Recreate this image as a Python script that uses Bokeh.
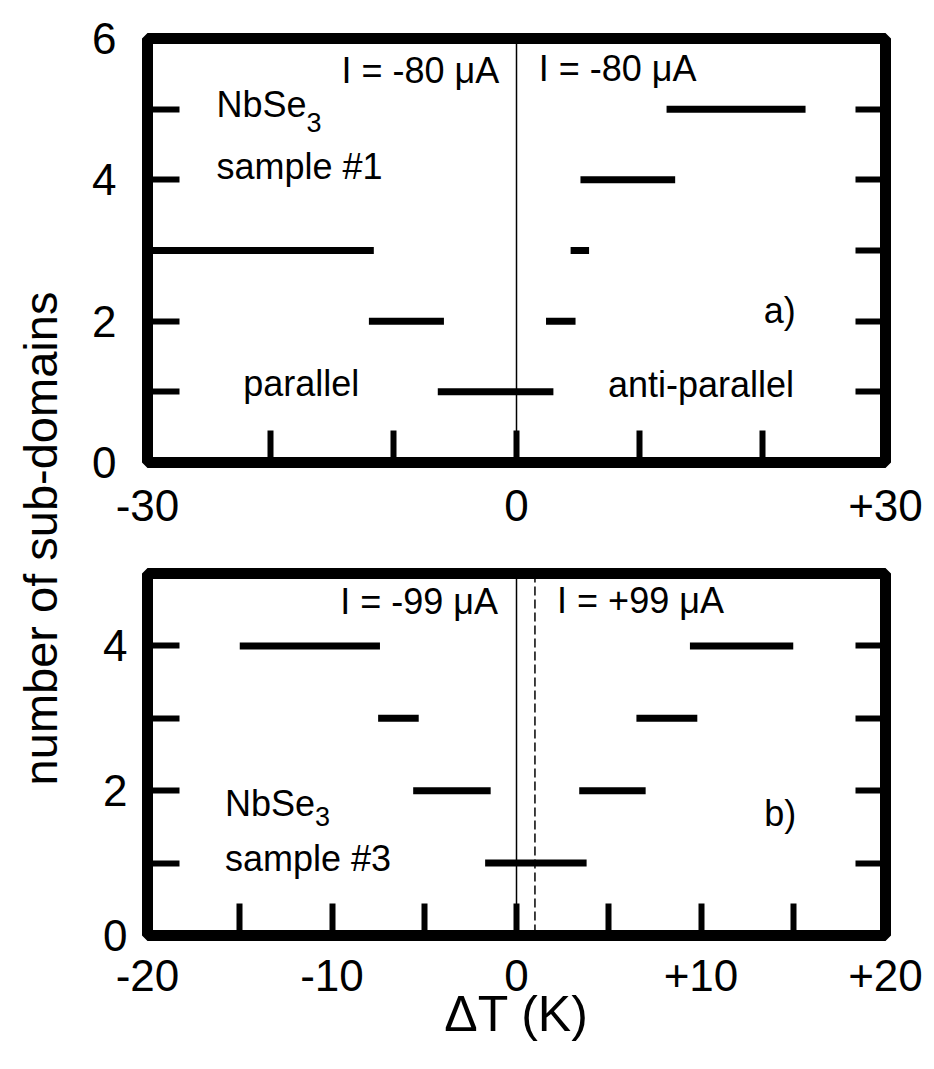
import math
from bokeh.plotting import figure
from bokeh.models import Range1d, FixedTicker, LinearAxis, Label, Span
from bokeh.layouts import row, column
from bokeh.embed import file_html
from bokeh.resources import INLINE

FONT = "Liberation Sans"

# ---------------- data ----------------
# panel a) : NbSe3 sample #1
top_rows = [5, 4, 3, 3, 2, 2, 1]
top_start = [12.2, 5.2, -30.0, 4.4, -12.0, 2.4, -6.4]
top_end = [23.5, 12.9, -11.6, 5.9, -5.9, 4.8, 3.0]
top_x_range = (-30, 30)
top_y_range = (0, 6)
top_x_ticks = [-30, 0, 30]
top_x_minor = [-20, -10, 10, 20]
top_x_labels = {-30: "-30", 0: "0", 30: "+30"}
top_y_ticks = [0, 2, 4, 6]
top_y_minor = [1, 3, 5]
top_right_minor = [1, 2, 3, 4, 5]
top_ref_lines = [0.0]

# panel b) : NbSe3 sample #3
bot_rows = [4, 4, 3, 3, 2, 2, 1]
bot_start = [-15.0, 9.4, -7.5, 6.5, -5.6, 3.4, -1.7]
bot_end = [-7.4, 15.0, -5.3, 9.8, -1.4, 7.0, 3.8]
bot_x_range = (-20, 20)
bot_y_range = (0, 5)
bot_x_ticks = [-20, -10, 0, 10, 20]
bot_x_minor = [-15, -5, 5, 15]
bot_x_labels = {-20: "-20", -10: "-10", 0: "0", 10: "+10", 20: "+20"}
bot_y_ticks = [0, 2, 4]
bot_y_minor = [1, 3]
bot_right_minor = [1, 2, 3, 4]
bot_ref_solid = [0.0]
bot_ref_dashed = [1.0]

y_title = "number of sub-domains"
x_title = "\u0394T (K)"

TICK_FONT = "44px"
TEXT_FONT = "36px"
SUB_FONT = "27px"
TITLE_FONT = "50px"


def style_ticks(ax, length):
    ax.axis_line_color = None
    ax.major_tick_in = length
    ax.major_tick_out = 0
    ax.minor_tick_in = length
    ax.minor_tick_out = 0
    ax.major_tick_line_width = 6
    ax.minor_tick_line_width = 6
    ax.major_tick_line_color = "black"
    ax.minor_tick_line_color = "black"
    ax.major_tick_line_cap = "butt"
    ax.minor_tick_line_cap = "butt"


def panel(width, height, xr, yr, xt, xm, xl, yt, ym, rm, borders, xstand, ystand):
    p = figure(width=width, height=height, x_range=Range1d(*xr), y_range=Range1d(*yr),
               toolbar_location=None, output_backend="svg",
               min_border_left=borders[0], min_border_right=borders[1],
               min_border_top=borders[2], min_border_bottom=borders[3])
    p.xgrid.visible = False
    p.ygrid.visible = False
    p.outline_line_color = "black"
    p.outline_line_width = 11
    p.background_fill_color = "white"
    p.border_fill_color = "white"
    for ax, ticks, minor, stand in ((p.xaxis[0], xt, xm, xstand), (p.yaxis[0], yt, ym, ystand)):
        ax.ticker = FixedTicker(ticks=ticks, minor_ticks=minor)
        style_ticks(ax, 32)
        ax.major_label_text_font = FONT
        ax.major_label_text_font_size = TICK_FONT
        ax.major_label_text_color = "black"
        ax.major_label_standoff = stand
    p.xaxis[0].major_label_overrides = xl
    ra = LinearAxis(ticker=FixedTicker(ticks=[], minor_ticks=rm))
    style_ticks(ra, 30)
    p.add_layout(ra, "right")
    return p


def txt(p, x, y, s, size=TEXT_FONT, align="left", xo=0, yo=0):
    p.add_layout(Label(x=x, y=y, text=s, x_offset=xo, y_offset=yo,
                       text_font=FONT, text_font_size=size, text_align=align,
                       text_baseline="middle", text_color="black"))


# ---------------- top panel ----------------
top = panel(854, 550, top_x_range, top_y_range, top_x_ticks, top_x_minor, top_x_labels,
            top_y_ticks, top_y_minor, top_right_minor, (63, 49, 38, 88), 27, 31)
for loc in top_ref_lines:
    top.add_layout(Span(location=loc, dimension="height", line_color="black", line_width=1.5))
top.segment(x0=top_start, x1=top_end, y0=top_rows, y1=top_rows,
            line_color="black", line_width=7, line_cap="butt")
txt(top, -1.4, 5.55, "I = -80 \u03bcA", align="right")
txt(top, 1.8, 5.58, "I = -80 \u03bcA")
txt(top, -24.4, 5.06, "NbSe")
txt(top, -24.4, 5.06, "3", size=SUB_FONT, xo=90, yo=-18)
txt(top, -24.4, 4.19, "sample #1")
txt(top, -17.5, 1.12, "parallel", align="center")
txt(top, 15.0, 1.1, "anti-parallel", align="center")
txt(top, 21.4, 2.15, "a)", align="center")

# ---------------- bottom panel ----------------
bot = panel(854, 519, bot_x_range, bot_y_range, bot_x_ticks, bot_x_minor, bot_x_labels,
            bot_y_ticks, bot_y_minor, bot_right_minor, (67, 39, 23, 134), 24, 20)
bot.xaxis[0].axis_label = x_title
bot.xaxis[0].axis_label_text_font = FONT
bot.xaxis[0].axis_label_text_font_size = TITLE_FONT
bot.xaxis[0].axis_label_text_font_style = "normal"
bot.xaxis[0].axis_label_text_color = "black"
bot.xaxis[0].axis_label_standoff = -8
for loc in bot_ref_solid:
    bot.add_layout(Span(location=loc, dimension="height", line_color="black", line_width=1.5))
for loc in bot_ref_dashed:
    bot.add_layout(Span(location=loc, dimension="height", line_color="black", line_width=1.5,
                        line_dash="9 4"))
bot.segment(x0=bot_start, x1=bot_end, y0=bot_rows, y1=bot_rows,
            line_color="black", line_width=7, line_cap="butt")
txt(bot, -1.0, 4.62, "I = -99 \u03bcA", align="right")
txt(bot, 2.2, 4.63, "I = +99 \u03bcA")
txt(bot, -15.8, 1.83, "NbSe")
txt(bot, -15.8, 1.83, "3", size=SUB_FONT, xo=90, yo=-13)
txt(bot, -15.8, 1.07, "sample #3")
txt(bot, 14.3, 1.68, "b)", align="center")

# ---------------- y title strip ----------------
ylab = figure(width=80, height=1069, x_range=Range1d(0, 80), y_range=Range1d(0, 1069),
              toolbar_location=None, output_backend="svg", x_axis_location=None,
              y_axis_location=None, min_border=0)
ylab.outline_line_color = None
ylab.xgrid.visible = False
ylab.ygrid.visible = False
ylab.add_layout(Label(x=40, y=1069 - 538, text=y_title, angle=math.pi / 2, text_align="center",
                      text_baseline="middle", text_font=FONT, text_font_size="47px",
                      text_color="black"))

layout = row(ylab, column(top, bot))
open("out.html", "w").write(file_html(layout, INLINE))
